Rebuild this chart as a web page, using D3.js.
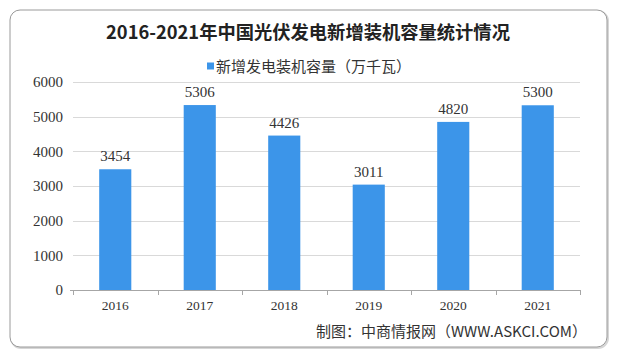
<!DOCTYPE html>
<html><head><meta charset="utf-8">
<script src="https://cdn.jsdelivr.net/npm/d3@7"></script>
<style>body{margin:0;background:#fff}svg{display:block}</style>
</head><body>
<svg id="c" width="618" height="358"></svg>
<script>
const categories = ["2016","2017","2018","2019","2020","2021"];
const values = [3454, 5306, 4426, 3011, 4820, 5300];
const yTicks = [0,1000,2000,3000,4000,5000,6000];
const title = "2016-2021年中国光伏发电新增装机容量统计情况";
const legendLabel = "新增发电装机容量（万千瓦）";
const source = "制图：中商情报网（WWW.ASKCI.COM）";

const svg = d3.select("#c");
const numFont = "'Liberation Serif','DejaVu Serif',serif";
const cjk = "'Noto Sans CJK SC','Noto Sans',sans-serif";

// frame
svg.append("rect").attr("x",11).attr("y",11).attr("width",597).attr("height",337)
  .attr("rx",10).attr("fill","none").attr("stroke","#d6d6d6").attr("stroke-width",2);
svg.append("rect").attr("x",10).attr("y",10).attr("width",597).attr("height",337)
  .attr("rx",10).attr("fill","#fff").attr("stroke","#9a9a9a").attr("stroke-width",1);

const x = d3.scaleBand().domain(categories).range([73,580]).paddingInner(0.62).paddingOuter(0.31);
const y = d3.scaleLinear().domain([0,6000]).range([290,82]);

// gridlines
svg.append("g").selectAll("line").data(yTicks.filter(d=>d>0)).join("line")
  .attr("x1",73).attr("x2",580).attr("y1",d=>Math.round(y(d))+0.5).attr("y2",d=>Math.round(y(d))+0.5)
  .attr("stroke","#d9d9d9");

// y labels
svg.append("g").selectAll("text").data(yTicks).join("text")
  .attr("x",63).attr("y",d=>y(d)).attr("dy","0.36em").attr("text-anchor","end")
  .attr("font-family",numFont).attr("font-size",15).attr("fill","#333").text(d=>d);

// bars
svg.append("g").selectAll("rect").data(values).join("rect")
  .attr("x",(d,i)=>x(categories[i])).attr("width",x.bandwidth())
  .attr("y",d=>y(d)-1).attr("height",d=>y(0)-y(d)+1).attr("fill","#3c95e9");

// value labels
svg.append("g").selectAll("text").data(values).join("text")
  .attr("x",(d,i)=>x(categories[i])+x.bandwidth()/2).attr("y",d=>y(d)-9)
  .attr("text-anchor","middle").attr("font-family",numFont).attr("font-size",15)
  .attr("fill","#333").text(d=>d);

// x axis
const xa = svg.append("g");
xa.append("line").attr("x1",70).attr("x2",580).attr("y1",290.5).attr("y2",290.5).attr("stroke","#a6a6a6");
const bounds = d3.range(categories.length+1).map(i=>73+i*(507/categories.length));
xa.selectAll("line.t").data(bounds).join("line").attr("class","t")
  .attr("x1",d=>Math.round(d)+0.5).attr("x2",d=>Math.round(d)+0.5).attr("y1",290).attr("y2",295).attr("stroke","#a6a6a6");
xa.selectAll("text").data(categories).join("text")
  .attr("x",d=>x(d)+x.bandwidth()/2).attr("y",310).attr("text-anchor","middle")
  .attr("font-family",numFont).attr("font-size",13.5).attr("fill","#333").text(d=>d);

// title
svg.append("text").attr("x",308).attr("y",39).attr("text-anchor","middle")
  .attr("font-family",cjk).attr("font-weight","bold").attr("font-size",18.3)
  .attr("fill","#222").text(title);

// legend
svg.append("rect").attr("x",207).attr("y",62.5).attr("width",7).attr("height",7).attr("fill","#3c95e9");
svg.append("text").attr("x",216).attr("y",72).attr("font-family",cjk).attr("font-size",15)
  .attr("fill","#333").text(legendLabel);

// source
svg.append("text").attr("x",587).attr("y",337).attr("text-anchor","end")
  .attr("font-family",cjk).attr("font-size",15).attr("fill","#333").text(source);
</script>
</body></html>
